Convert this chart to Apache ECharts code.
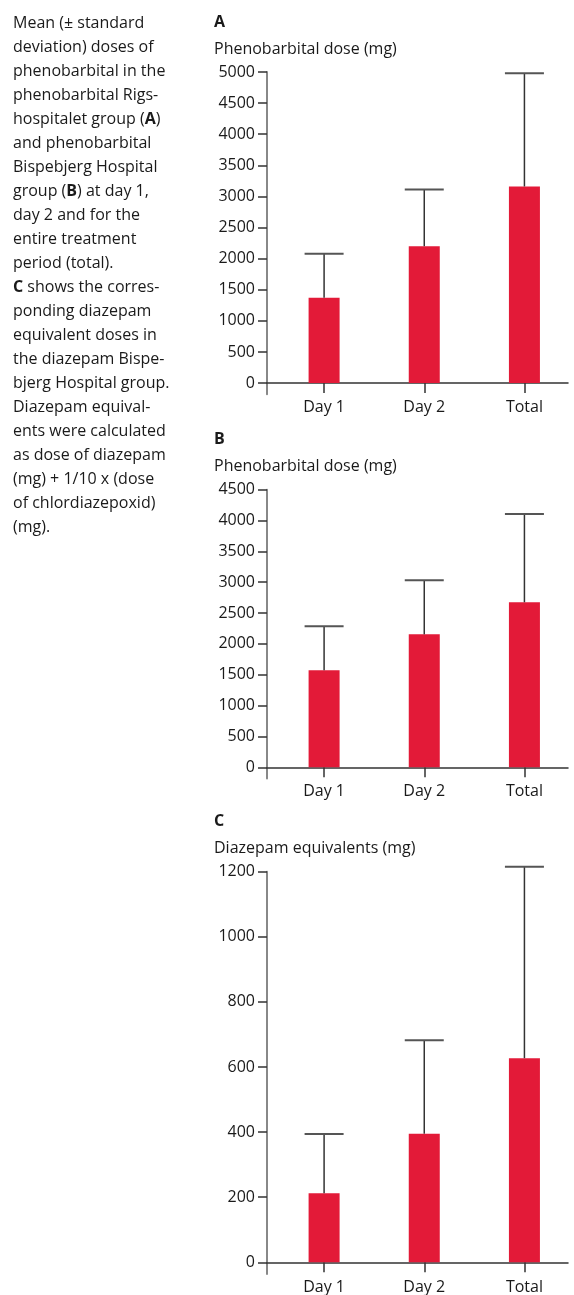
<!DOCTYPE html>
<html>
<head>
<meta charset="utf-8">
<script src="https://cdn.jsdelivr.net/npm/echarts@6/dist/echarts.min.js"></script>
<style>
  html, body { margin: 0; padding: 0; background: #fff; }
  #chart { width: 574px; height: 1295px; }
</style>
</head>
<body>
<div id="chart"></div>
<script>
// ---- data ----
const categories = ['Day 1', 'Day 2', 'Total'];
const meanA = [1370, 2200, 3160];
const sdA = [710, 913, 1820];
const meanB = [1575, 2155, 2675];
const sdB = [713, 877, 1431];
const meanC = [212, 395, 627];
const sdC = [182, 287, 588];
const ticksA = [0, 500, 1000, 1500, 2000, 2500, 3000, 3500, 4000, 4500, 5000];
const ticksB = [0, 500, 1000, 1500, 2000, 2500, 3000, 3500, 4000, 4500];
const ticksC = [0, 200, 400, 600, 800, 1000, 1200];
const panelLetters = ['A', 'B', 'C'];
const axisTitles = ['Phenobarbital dose (mg)', 'Phenobarbital dose (mg)', 'Diazepam equivalents (mg)'];
const captionLines = [
  'Mean (\u00b1 standard',
  'deviation) doses of',
  'phenobarbital in the',
  'phenobarbital Rigs-',
  'hospitalet group ({b|A})',
  'and phenobarbital',
  'Bispebjerg Hospital',
  'group ({b|B}) at day 1,',
  'day 2 and for the',
  'entire treatment',
  'period (total).',
  '{b|C} shows the corres-',
  'ponding diazepam',
  'equivalent doses in',
  'the diazepam Bispe-',
  'bjerg Hospital group.',
  'Diazepam equival-',
  'ents were calculated',
  'as dose of diazepam',
  '(mg) + 1/10 x (dose',
  'of chlordiazepoxid)',
  '(mg).'
];

// ---- layout ----
const FONT = '"Open Sans", sans-serif';
const FS = 16;
const RED = '#e31a38';
const panels = [
  { mean: meanA, sd: sdA, ticks: ticksA, min: -180, max: 5000, top: 72, height: 322.3 },
  { mean: meanB, sd: sdB, ticks: ticksB, min: -180, max: 4500, top: 489.7, height: 288.7 },
  { mean: meanC, sd: sdC, ticks: ticksC, min: -36, max: 1200, top: 871.7, height: 405.1 }
];

const grids = [], xAxes = [], yAxes = [], series = [], titles = [];

titles.push({
  left: 13, top: 11, padding: 0,
  text: captionLines.join('\n'),
  textStyle: {
    fontFamily: FONT, fontSize: FS, fontWeight: 'normal', color: '#1a1a1a', lineHeight: 24,
    rich: { b: { fontFamily: FONT, fontSize: FS, fontWeight: 'bold', color: '#1a1a1a', lineHeight: 24 } }
  }
});

panels.forEach((p, i) => {
  grids.push({ left: 267, width: 301, top: p.top, height: p.height });
  titles.push({
    left: 214, top: p.top - 60, padding: 0, text: panelLetters[i],
    textStyle: { fontFamily: FONT, fontSize: FS, fontWeight: 'bold', color: '#1a1a1a', lineHeight: 20 }
  });
  titles.push({
    left: 214, top: p.top - 33, padding: 0, text: axisTitles[i],
    textStyle: { fontFamily: FONT, fontSize: FS, fontWeight: 'normal', color: '#1a1a1a', lineHeight: 20 }
  });
  const pos = categories.map((c, k) => k + 0.5);
  xAxes.push({
    gridIndex: i, type: 'value', min: -0.07, max: 2.935,
    splitLine: { show: false },
    axisLine: { show: true, onZero: true, lineStyle: { color: '#333', width: 1.5 } },
    axisTick: { show: true, length: 10, customValues: pos, lineStyle: { color: '#333', width: 1.5 } },
    axisLabel: {
      customValues: pos, margin: 5,
      fontFamily: FONT, fontSize: FS, color: '#1a1a1a',
      formatter: v => categories[Math.round(v - 0.5)]
    }
  });
  yAxes.push({
    gridIndex: i, type: 'value', min: p.min, max: p.max,
    splitLine: { show: false },
    axisLine: { show: true, onZero: false, lineStyle: { color: '#888', width: 2 } },
    axisTick: { show: true, length: 9, customValues: p.ticks, lineStyle: { color: '#333', width: 1.5 } },
    axisLabel: {
      customValues: p.ticks, margin: 12, fontFamily: FONT, fontSize: FS, color: '#1a1a1a',
      formatter: v => String(v)
    }
  });
  series.push({
    type: 'bar', xAxisIndex: i, yAxisIndex: i, barWidth: 31,
    itemStyle: { color: RED },
    data: p.mean.map((m, k) => [pos[k], m])
  });
  series.push({
    type: 'custom', xAxisIndex: i, yAxisIndex: i, z: 5,
    data: p.mean.map((m, k) => [pos[k], m, p.sd[k]]),
    renderItem: (params, api) => {
      const x = api.value(0), m = api.value(1), s = api.value(2);
      const base = api.coord([x, m]);
      const top = api.coord([x, m + s]);
      const half = 19.5;
      return {
        type: 'group',
        children: [
          { type: 'line', shape: { x1: base[0], y1: base[1], x2: top[0], y2: top[1] },
            style: { stroke: '#333', lineWidth: 1.5 } },
          { type: 'line', shape: { x1: top[0] - half, y1: top[1], x2: top[0] + half, y2: top[1] },
            style: { stroke: '#555', lineWidth: 2 } }
        ]
      };
    }
  });
});

const chart = echarts.init(document.getElementById('chart'), null, { renderer: 'canvas' });
chart.setOption({
  animation: false,
  backgroundColor: '#fff',
  title: titles,
  grid: grids,
  xAxis: xAxes,
  yAxis: yAxes,
  series: series
});
</script>
</body>
</html>
